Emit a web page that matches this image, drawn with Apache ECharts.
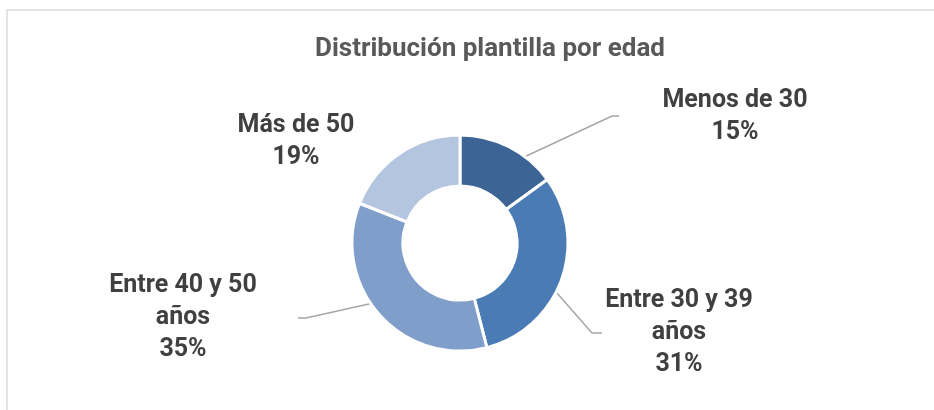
<!DOCTYPE html>
<html>
<head>
<meta charset="utf-8">
<script src="https://cdn.jsdelivr.net/npm/echarts@6/dist/echarts.min.js"></script>
<style>
  html, body { margin: 0; padding: 0; background: #fff; }
  #frame {
    position: absolute; left: 6px; top: 9px; width: 940px; height: 420px;
    border-top: 2px solid #e3e3e3; border-left: 2px solid #e3e3e3;
  }
  #chart { position: absolute; left: 0; top: 0; width: 934px; height: 410px; }
</style>
</head>
<body>
<div id="frame"></div>
<div id="chart"></div>
<script>
// datos
const categories = ['Menos de 30', 'Entre 30 y 39\naños', 'Entre 40 y 50\naños', 'Más de 50']
const values = [15, 31, 35, 19]
const colors = ['#3c6596', '#4a7bb4', '#7f9eca', '#b4c5e0']

// geometría del anillo
const CX = 460, CY = 243, R_IN = 57, R_OUT = 108

// posición de cada etiqueta (centro del bloque) y codo de la línea guía
const labelSpots = [
  { x: 735, y: 117, elbow: [612, 116], end: [619, 116] },
  { x: 679, y: 333, elbow: [592, 333], end: [602, 333] },
  { x: 183, y: 318, elbow: [306, 318], end: [298, 318] },
  { x: 296, y: 142, elbow: null, end: null }
]

const total = values.reduce((a, b) => a + b, 0)

// ángulo medio de cada porción (desde arriba, sentido horario)
function midAngle(i) {
  let acc = 0
  for (let k = 0; k < i; k++) acc += values[k]
  const frac = (acc + values[i] / 2) / total
  return -Math.PI / 2 + frac * 2 * Math.PI
}

const chart = echarts.init(document.getElementById('chart'), null, { renderer: 'canvas' })

chart.setOption({
  animation: false,
  title: {
    text: 'Distribución plantilla por edad',
    left: 485, top: 31, textAlign: 'center',
    textStyle: { fontFamily: 'Roboto', fontSize: 26, fontWeight: 'bold', color: '#595959' }
  },
  series: [{
    type: 'pie',
    center: [CX, CY],
    radius: [R_IN, R_OUT],
    startAngle: 90,
    clockwise: true,
    silent: true,
    itemStyle: { borderColor: '#fff', borderWidth: 3 },
    label: {
      show: true,
      formatter: '{b}\n{d}%',
      fontFamily: 'Roboto',
      fontSize: 25,
      fontWeight: 'bold',
      lineHeight: 32,
      color: '#404040',
      align: 'center'
    },
    labelLine: { show: true, lineStyle: { color: '#a6a6a6', width: 1.5 } },
    labelLayout: function (params) {
      const i = params.dataIndex
      const s = labelSpots[i]
      const out = { x: s.x, y: s.y, align: 'center', verticalAlign: 'middle' }
      if (s.elbow) {
        const a = midAngle(i)
        const rm = (R_IN + R_OUT) / 2
        out.labelLinePoints = [[CX + rm * Math.cos(a), CY + rm * Math.sin(a)], s.elbow, s.end]
      }
      return out
    },
    data: categories.map((name, i) => ({
      name: name,
      value: values[i],
      itemStyle: { color: colors[i] },
      labelLine: { show: labelSpots[i].elbow !== null }
    }))
  }]
})
</script>
</body>
</html>
